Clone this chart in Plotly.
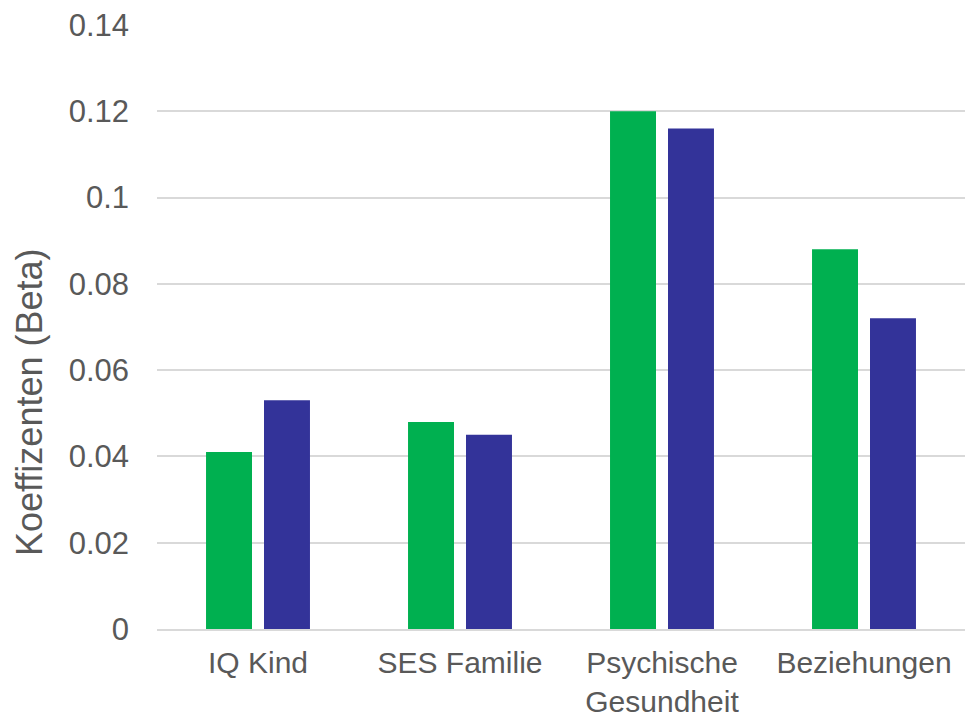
import plotly.graph_objects as go

# Daten
kategorien = ["IQ Kind", "SES Familie", "Psychische<br>Gesundheit", "Beziehungen"]
werte_gruen = [0.041, 0.048, 0.120, 0.088]
werte_blau = [0.053, 0.045, 0.116, 0.072]
y_ticks = [0, 0.02, 0.04, 0.06, 0.08, 0.1, 0.12, 0.14]
y_ticktext = ["0", "0.02", "0.04", "0.06", "0.08", "0.1", "0.12", "0.14"]
y_titel = "Koeffizenten (Beta)"

COLORS = {
    "green": "#00B050",
    "blue": "#333399",
    "text": "#595959",
    "grid": "#D9D9D9",
}

fig = go.Figure()
fig.add_trace(go.Bar(x=kategorien, y=werte_gruen, name="Serie 1",
                     marker=dict(color=COLORS["green"], line=dict(width=0))))
fig.add_trace(go.Bar(x=kategorien, y=werte_blau, name="Serie 2",
                     marker=dict(color=COLORS["blue"], line=dict(width=0))))

fig.update_layout(
    width=967,
    height=716,
    barmode="group",
    bargap=0.426,
    bargroupgap=0.207,
    showlegend=False,
    plot_bgcolor="white",
    paper_bgcolor="white",
    margin=dict(l=157, r=2, t=25, b=87, autoexpand=False),
    font=dict(family="Liberation Sans, Arial, sans-serif", size=31, color=COLORS["text"]),
)
fig.update_yaxes(
    range=[0, 0.14],
    tickvals=y_ticks,
    ticktext=y_ticktext,
    showgrid=True,
    gridcolor=COLORS["grid"],
    gridwidth=1.5,
    zeroline=False,
    showline=False,
    ticks="",
    ticklabelstandoff=27,
    automargin=False,
)
fig.update_xaxes(
    showline=True,
    linecolor=COLORS["grid"],
    linewidth=1.5,
    ticks="",
    ticklabelstandoff=6,
    tickfont=dict(size=30),
    automargin=False,
)

# Achsentitel wie im Original leicht nach unten versetzt
fig.add_annotation(
    text=y_titel, textangle=-90,
    xref="paper", yref="paper", x=-0.157, y=0.376,
    xanchor="center", yanchor="middle",
    showarrow=False, font=dict(size=36, color=COLORS["text"]),
)

# Seitenrand entfernen, damit die Grafik genau das Fenster füllt
fig.write_html("out.html", post_script="document.body.style.margin='0';",
               config={"displayModeBar": False})
